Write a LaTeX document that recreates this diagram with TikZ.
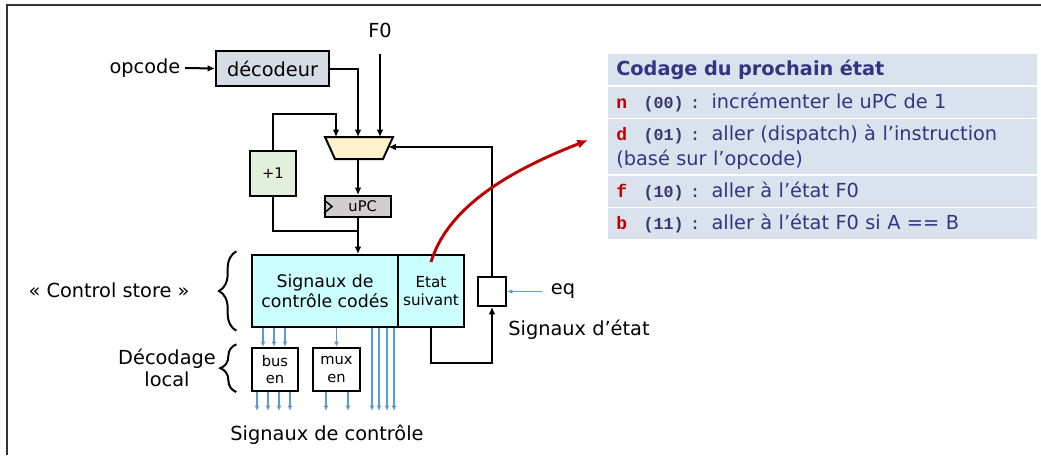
\documentclass[tikz,border=0pt]{standalone}
\usepackage{fontspec}
\setmainfont{DejaVu Sans}
\newfontfamily\codefont{Liberation Mono}
\usepackage{xcolor}
\usepackage{tikz}
\usetikzlibrary{arrows.meta,positioning,decorations.pathreplacing}
\definecolor{decfill}{RGB}{214,220,229}
\definecolor{muxfill}{RGB}{255,242,204}
\definecolor{incfill}{RGB}{226,239,218}
\definecolor{pcfill}{RGB}{208,206,206}
\definecolor{storefill}{RGB}{204,255,255}
\definecolor{sigblue}{RGB}{91,155,213}
\definecolor{tabfill}{RGB}{218,226,238}
\definecolor{tabtext}{RGB}{52,52,130}
\definecolor{codegray}{RGB}{56,56,110}
\definecolor{codered}{RGB}{192,0,0}
\newcommand\stcode[2]{{\codefont\bfseries\fontsize{13.5}{17}\selectfont\color{codered}#1}\hspace{12.5pt}{\codefont\bfseries\fontsize{12.5}{15}\selectfont\color{codegray}(#2)~:}\hspace{8.5pt}}

\begin{document}
\begin{tikzpicture}[x=0.75pt,y=-0.75pt,
  every node/.style={font=\fontsize{14.5}{17}\selectfont},
  blk/.style={draw,line width=1.5pt,inner sep=0pt,align=center},
  sml/.style={font=\fontsize{11}{13.3}\selectfont},
  arr/.style={-{Latex[length=5.5pt,width=5pt]},line width=1.5pt},
  wire/.style={line width=1.5pt},
  sig/.style={-{Latex[length=4pt,width=3.5pt]},sigblue,line width=0.8pt},
  brc/.style={decorate,decoration={brace,amplitude=#1},line width=1.5pt},
  row/.style={fill=tabfill,minimum width=321.75pt,text width=309.75pt,inner xsep=6pt,inner ysep=0pt,align=left,text=tabtext},
  nxarrow/.style={-{Latex[length=8pt,width=7pt]},codered,line width=2.2pt}]
  \useasboundingbox (0,0) rectangle (1041,455);
  \draw[line width=1.1pt,black!80] (7,455) -- (7,5) -- (1041,5);

  % sequenceur
  \node (opc) at (145,68) {opcode};
  \node (f0) at (380,30) {F0};
  \node[blk,fill=decfill,minimum width=84.75pt,minimum height=26.25pt] (dec) at (272.5,68.5) {décodeur};
  \node[blk,fill=incfill,minimum width=34.5pt,minimum height=33.75pt,sml] (inc) at (273,173.5) {+1};
  \node[blk,fill=pcfill,minimum width=49.5pt,minimum height=15.75pt,sml] (upc) at (358,206.5) {\hspace*{7pt}uPC};
  \draw[line width=1.1pt] ([yshift=5pt]upc.west) -- ([xshift=6pt]upc.west) -- ([yshift=-5pt]upc.west);
  \draw[wire,fill=muxfill] (325,137) -- (393,137) -- (383,159) -- (335,159) -- cycle;
  \coordinate (muxA) at (336,137);
  \coordinate (muxB) at (358,137);
  \coordinate (muxC) at (380,137);
  \coordinate (muxR) at (388.5,147);
  \coordinate (muxO) at (358,159);
  \coordinate (incTop) at (0,114);
  \coordinate (joinY) at (0,231);
  \coordinate (loopB) at (0,363);

  % control store
  \node[blk,fill=storefill,minimum width=109.5pt,minimum height=54pt,font=\fontsize{13}{15.5}\selectfont] (store) at (325,291) {Signaux de\\contrôle codés};
  \node[blk,fill=storefill,minimum width=49.5pt,minimum height=54pt,font=\fontsize{11.4}{14}\selectfont] (next) at (431,291) {Etat\\suivant};
  \node[blk,fill=white,minimum width=21pt,minimum height=21.75pt] (reg) at (492,291.5) {};
  \node (eq) at (563,291.5) {eq};
  \node (etat) at (579,330) {Signaux d’état};
  \node[blk,minimum width=34.5pt,minimum height=32.25pt,sml] (busen) at (275,369.5) {bus\\en};
  \node[blk,minimum width=35.25pt,minimum height=32.25pt,sml] (muxen) at (336.5,369.5) {mux\\en};
  \node (cs) at (109,290) {« Control store »};
  \node[align=center,font=\fontsize{14.5}{16.5}\selectfont] (dl) at (167,368) {Décodage\\local};
  \node (sc) at (327,435) {Signaux de contrôle};
  \coordinate (outs) at (0,411);

  \draw[arr] (opc.east) -- (dec.west);
  \draw[arr] (dec.east) -| (muxB);
  \draw[arr] ([yshift=-9pt]f0.south) -- (muxC);
  \draw[arr] (inc.north) |- (incTop -| muxA) -- (muxA);
  \draw[arr] (muxO) -- (upc.north);
  \draw[wire] (inc.south) |- (joinY -| upc.south);
  \draw[arr] (upc.south) -- (upc.south |- store.north);
  \draw[arr] (reg.north) |- (muxR);
  \draw[arr] (next.south) |- (loopB -| reg.south) -- (reg.south);
  \draw[sig] ([xshift=-3pt]eq.west) -- (reg.east);

  \draw[brc=13pt] ([xshift=-11pt,yshift=-2pt]store.south west) -- ([xshift=-11pt,yshift=2pt]store.north west);
  \draw[brc=12pt] ([xshift=-11pt]busen.south west) -- ([xshift=-11pt,yshift=2pt]busen.north west);

  % signaux
  \foreach \o in {12,23,34}
    \draw[sig] ([xshift=\o*0.75pt]store.south west) -- ([xshift=\o*0.75pt]busen.north west);
  \draw[sig] (store.south -| muxen.north) -- (muxen.north);
  \foreach \o in {6,17,28,39}
    \draw[sig] ([xshift=\o*0.75pt]busen.south west) coordinate (s) -- (s |- outs);
  \foreach \o in {-10.5,11.5}
    \draw[sig] ([xshift=\o*0.75pt]muxen.south) coordinate (s) -- (s |- outs);
  \foreach \o in {121,128,136,143}
    \draw[sig] ([xshift=\o*0.75pt]store.south west) coordinate (s) -- (s |- outs);

  % codage
  \node[row,minimum height=23.25pt,anchor=north west] (title) at (608,54) {\textbf{Codage du prochain état}};
  \node[row,minimum height=23.25pt,below=0.75pt of title] (rn) {\stcode{n}{00}incrémenter le uPC de 1};
  \node[row,minimum height=41.25pt,below=0.75pt of rn,font=\fontsize{14.5}{18.75}\selectfont] (rd) {\stcode{d}{01}aller (dispatch) à l’instruction\\(basé sur l’opcode)};
  \node[row,minimum height=23.25pt,below=0.75pt of rd] (rf) {\stcode{f}{10}aller à l’état F0};
  \node[row,minimum height=23.25pt,below=0.75pt of rf] (rb) {\stcode{b}{11}aller à l’état F0 si A == B};
  \coordinate (redE) at (588,140);
  \draw[nxarrow] ([yshift=-6pt]next.north) .. controls (450,200) and (525,165) .. (redE);
\end{tikzpicture}
\end{document}
